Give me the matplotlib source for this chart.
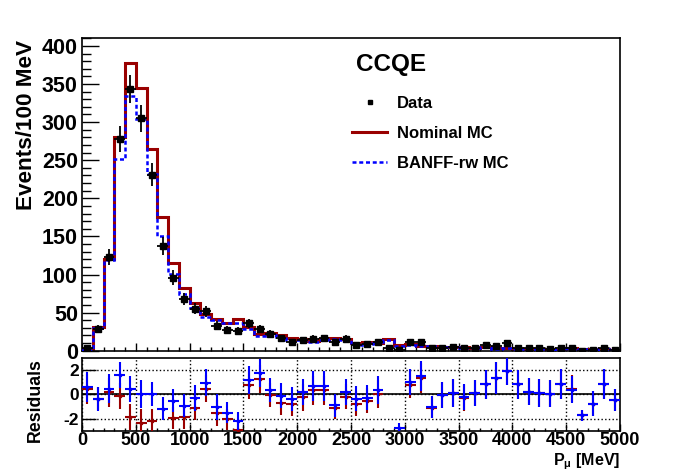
import numpy as np
import matplotlib
matplotlib.use('Agg')
import matplotlib.pyplot as plt
from matplotlib.ticker import MultipleLocator
from matplotlib.lines import Line2D

plt.rcParams['font.family'] = ['Liberation Sans', 'DejaVu Sans']
plt.rcParams['font.weight'] = 'bold'
plt.rcParams['axes.unicode_minus'] = False
plt.rcParams['mathtext.fontset'] = 'custom'
plt.rcParams['mathtext.rm'] = 'Liberation Sans:bold'
plt.rcParams['mathtext.it'] = 'Liberation Sans:bold'
plt.rcParams['mathtext.bf'] = 'Liberation Sans:bold'

# 50 bins of 100 MeV from 0 to 5000 MeV
edges = np.arange(0, 5001, 100)

data = [3, 28, 123, 278, 343, 305, 231, 137, 96, 68,
        55, 52, 33, 27, 26, 36, 29, 22, 17, 12,
        14, 16, 17, 12, 16, 7, 9, 11, 4, 1,
        12, 11, 4, 3, 5, 4, 4, 7, 6, 10,
        4, 3, 3, 2, 3, 4, 0, 1, 4, 1]

nominal = [2, 31, 121, 280, 378, 345, 265, 175, 115, 82,
           62.5, 48, 42, 37, 41, 31, 22, 23, 21, 17,
           15, 13, 15, 17, 15, 10, 11, 10, 15, 7,
           9, 6, 6, 4.5, 5, 4.2, 4, 5, 3, 4,
           2.6, 2.6, 2.8, 1.7, 1.5, 3.3, 2.5, 1.3, 2.5, 1.2]

banff = [1.5, 30, 119, 252, 334, 304, 232, 150, 101, 74,
         56, 44, 40, 37, 37, 28, 19, 21, 18.5, 14.5,
         14, 11.5, 13.5, 15.5, 14, 8, 9.7, 9, 14.5, 6.5,
         8, 5.7, 6, 4.2, 4.8, 4, 4, 4.8, 2.7, 3.8,
         2.5, 2.6, 2.8, 1.7, 1.5, 3.4, 2.5, 1.3, 2.5, 1.2]

resid_banff = [0.6, -0.41, 0.45, 1.6, 0.45, 0.05, 0.0, -1.17, -0.52, -0.94,
               -0.29, 0.95, -1.03, -1.5, -2.2, 1.2, 1.77, 0.33, -0.1, -0.4,
               0.2, 0.68, 0.68, -0.9, 0.2, -0.35, -0.27, 0.38, -4.5, -2.8,
               1.0, 1.5, -1.03, -0.05, 0.1, -0.24, 0.1, 0.82, 1.33, 1.9,
               0.82, 0.22, 0.1, 0.05, 0.84, 0.38, -1.74, -0.79, 0.84, -0.5]

resid_nominal = [0.45, -0.35, 0.16, -0.14, -1.88, -2.34, -2.2, -4.2, -1.94, -1.9,
                 -1.09, 0.46, -1.52, -2.07, -2.9, 0.8, 1.27, -0.05, -0.71, -0.84,
                 -0.25, 0.33, 0.33, -1.12, -0.19, -0.76, -0.54, 0.03, -4.8, -4.5,
                 0.8, 1.35, -1.09, -0.05, 0.1, -0.3, 0.1, 0.82, 1.33, 1.9,
                 0.82, 0.22, 0.1, 0.05, 0.84, 0.46, -1.74, -0.79, 0.84, -0.45]

resid_err = [1.22, 0.97, 1.18, 1.09, 1.05, 1.16, 1.0, 0.91, 0.93, 0.95,
             1.06, 1.12, 1.09, 0.88, 0.75, 1.16, 1.16, 0.98, 1.02, 0.98,
             1.09, 1.2, 1.2, 0.95, 1.06, 1.05, 1.02, 1.16, 0.9, 0.45,
             1.09, 1.25, 0.9, 1.09, 1.13, 1.06, 1.09, 1.2, 1.3, 1.16,
             1.2, 1.09, 1.12, 1.13, 1.2, 1.09, 0.44, 1.02, 1.22, 0.9]

red = '#990000'
blue = '#0000ff'

centers = 0.5 * (edges[:-1] + edges[1:])
halfw = 0.5 * np.diff(edges)
data = np.array(data, dtype=float)

fig = plt.figure(figsize=(6.96, 4.72), dpi=100)
W, H = 696.0, 472.0
ax = fig.add_axes([82 / W, 1 - 350.7 / H, 538 / W, (350.7 - 38.3) / H])
axr = fig.add_axes([82 / W, 1 - 431 / H, 538 / W, (431 - 358.3) / H])

# --- top panel
ax.stairs(nominal, edges, color=red, lw=2.2, baseline=0, zorder=2)
ax.stairs(banff, edges, color=blue, lw=1.8, ls=(0, (1.6, 1.1)), baseline=0, zorder=3)
ax.errorbar(centers, data, xerr=halfw, yerr=np.sqrt(data), fmt='s', color='black',
            ms=3.8, elinewidth=1.3, capsize=0, zorder=4)

ax.set_xlim(0, 5000)
ax.set_ylim(0, 410)
ax.yaxis.set_major_locator(MultipleLocator(50))
ax.yaxis.set_minor_locator(MultipleLocator(10))
ax.xaxis.set_major_locator(MultipleLocator(500))
ax.xaxis.set_minor_locator(MultipleLocator(100))
ax.tick_params(axis='both', which='both', direction='in', top=False, right=False)
ax.tick_params(axis='y', which='major', length=12, width=1, labelsize=15.5, pad=3)
ax.tick_params(axis='y', which='minor', length=6.5, width=1)
ax.tick_params(axis='x', which='major', length=6, width=1, labelbottom=False)
ax.tick_params(axis='x', which='minor', length=3, width=1)
for s in ax.spines.values():
    s.set_linewidth(1.2)

fig.text(26 / W, 1 - 40 / H, 'Events/100 MeV', rotation=90, ha='center', va='top',
         fontsize=16.2, fontweight='bold')
fig.text(356 / W, 1 - 64.7 / H, 'CCQE', ha='left', va='center', fontsize=17.5,
         fontweight='bold')

handles = [Line2D([], [], marker='s', ms=3.5, color='black', ls='none'),
           Line2D([], [], color=red, lw=2.2),
           Line2D([], [], color=blue, lw=1.8, ls=(0, (1.6, 1.1)))]
fig.legend(handles, ['Data', 'Nominal MC', 'BANFF-rw MC'], loc='upper left',
           bbox_to_anchor=(352 / W, 1 - 96 / H), bbox_transform=fig.transFigure,
           frameon=False, handlelength=2.1, handletextpad=0.6,
           labelspacing=0.9, borderpad=0, borderaxespad=0,
           prop={'weight': 'bold', 'size': 12})

# --- residual panel
axr.errorbar(centers, resid_nominal, xerr=halfw, yerr=resid_err, fmt='s', color=red,
             ms=1.5, elinewidth=1.5, capsize=0, zorder=3)
axr.errorbar(centers, resid_banff, xerr=halfw, yerr=resid_err, fmt='s', color=blue,
             ms=1.5, elinewidth=1.5, capsize=0, zorder=4)
axr.axhline(0, color='black', lw=1.2, zorder=2)
axr.set_xlim(0, 5000)
axr.set_ylim(-3.02, 2.96)
axr.xaxis.set_major_locator(MultipleLocator(500))
axr.xaxis.set_minor_locator(MultipleLocator(100))
axr.yaxis.set_major_locator(MultipleLocator(2))
axr.grid(True, which='major', color='black', ls=':', lw=1.0, zorder=1)
axr.tick_params(axis='both', which='both', direction='in', top=False, right=False)
axr.tick_params(axis='x', which='major', length=5, width=1, labelsize=13, pad=1)
axr.tick_params(axis='x', which='minor', length=2.5, width=1)
axr.tick_params(axis='y', which='major', length=10, width=1, labelsize=12.5, pad=2)
for s in axr.spines.values():
    s.set_linewidth(1.2)

fig.text(35 / W, 1 - 400 / H, 'Residuals', rotation=90, ha='center', va='center',
         fontsize=12.8, fontweight='bold')
fig.text(620 / W, 0.5 / H, r'P$_{\mu}$ [MeV]', ha='right', va='bottom',
         fontsize=11.5, fontweight='bold')

fig.savefig('out.png', dpi=100)
